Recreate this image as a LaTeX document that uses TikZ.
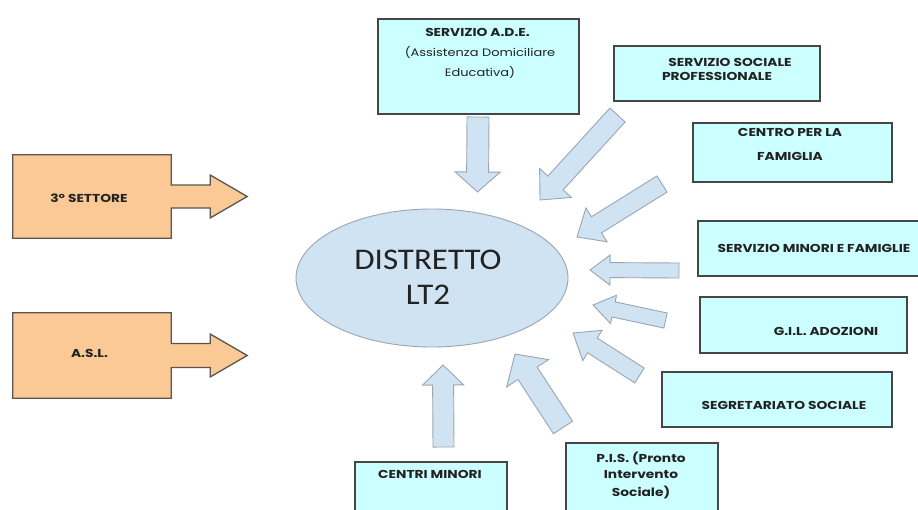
\documentclass[tikz,border=0pt]{standalone}
\usepackage{fontspec}
\usetikzlibrary{shapes.geometric,calc}
\newfontfamily\boxfont{Poppins}[FakeStretch=1.2]
\newfontfamily\bigfont{Carlito}[FakeStretch=1.1]
\definecolor{cyanfill}{RGB}{204,255,255}
\definecolor{boxborder}{RGB}{70,70,70}
\definecolor{orangefill}{RGB}{251,201,150}
\definecolor{oborder}{RGB}{90,85,80}
\definecolor{arrowfill}{RGB}{207,227,242}
\definecolor{arrowborder}{RGB}{155,165,178}
\definecolor{textcol}{RGB}{34,34,34}
\tikzset{
  cbox/.style={draw=boxborder, line width=1.3pt, fill=cyanfill, inner sep=0pt},
  oshape/.style={inner sep=0pt},
  obox/.style={draw=oborder, line width=1.3pt, fill=orangefill, line join=miter},
  barrow/.style={draw=arrowborder, line width=0.9pt, fill=arrowfill, line join=miter},
  btext/.style={font=\boxfont\bfseries\fontsize{11.5}{14}\selectfont, inner sep=0pt, align=center, text=textcol},
  rtext/.style={font=\boxfont\fontsize{10.8}{13}\selectfont, inner sep=0pt, align=center, text=textcol},
}
\newcommand\blockarrow[5]{%
  \path let \p1=(#1), \p2=(#2) in \pgfextra{%
    \pgfmathsetmacro\barang{atan2((\y2)-(\y1),(\x2)-(\x1))}%
    \pgfmathsetmacro\barlen{veclen((\x2)-(\x1),(\y2)-(\y1))}%
    \global\let\barang\barang \global\let\barlen\barlen};
  \draw[barrow, shift={(#1)}, rotate=\barang]
    (0,-#3) -- (\barlen-#5,-#3) -- (\barlen-#5,-#4) -- (\barlen,0)
    -- (\barlen-#5,#4) -- (\barlen-#5,#3) -- (0,#3) -- cycle;
}
\begin{document}
\begin{tikzpicture}[x=1pt,y=1pt]
\useasboundingbox[fill=white] (0,0) rectangle (918,-509);

% orange callouts
\node[oshape, minimum width=158pt, minimum height=83pt] (set) at (92,-196.5) {};
\filldraw[obox] (set.north west) -- (set.north east) -- ([yshift=11.5pt]set.east)
  -- ++(39,0) -- ++(0,10) -- ([xshift=76pt]set.east) -- ([xshift=39pt,yshift=-21.5pt]set.east)
  -- ++(0,10) -- ([yshift=-11.5pt]set.east) -- (set.south east) -- (set.south west) -- cycle;
\node[btext] (settxt) at (89,-198) {3° SETTORE};

\node[oshape, minimum width=158pt, minimum height=85pt] (asl) at (92,-355.5) {};
\filldraw[obox] (asl.north west) -- (asl.north east) -- ([yshift=12pt]asl.east)
  -- ++(39,0) -- ++(0,9.5) -- ([xshift=76pt]asl.east) -- ([xshift=39pt,yshift=-21.5pt]asl.east)
  -- ++(0,9.5) -- ([yshift=-12pt]asl.east) -- (asl.south east) -- (asl.south west) -- cycle;
\node[btext] (asltxt) at (89.5,-353) {A.S.L.};

% central ellipse
\node[ellipse, draw=arrowborder, line width=0.9pt, fill=arrowfill, minimum width=272pt, minimum height=138pt] (dist) at (432,-278) {};
\node[font=\bigfont\fontsize{30}{35}\selectfont, align=center, text=textcol, inner sep=0pt] (disttxt) at (428,-277) {DISTRETTO\\LT2};

% cyan boxes
\node[cbox, minimum width=201pt, minimum height=95pt] (ade) at (478.5,-66.5) {};
\node[btext] (adet1) at (477.5,-32.5) {SERVIZIO A.D.E.};
\node[rtext] (adet2) at (480,-52.5) {(Assistenza Domiciliare};
\node[rtext] (adet3) at (480,-72) {Educativa)};

\node[cbox, minimum width=206pt, minimum height=55pt] (ssp) at (717,-73.5) {};
\node[btext] (sspt1) at (730,-62) {SERVIZIO SOCIALE};
\node[btext] (sspt2) at (717,-76) {PROFESSIONALE};

\node[cbox, minimum width=199pt, minimum height=59pt] (cpf) at (792.5,-152.5) {};
\node[btext] (cpft1) at (790,-132) {CENTRO PER LA};
\node[btext] (cpft2) at (790,-156) {FAMIGLIA};

\node[cbox, minimum width=227pt, minimum height=55pt] (smf) at (811.5,-248.5) {};
\node[btext] (smftxt) at (814,-248) {SERVIZIO MINORI E FAMIGLIE};

\node[cbox, minimum width=207pt, minimum height=56pt] (gil) at (803.5,-325) {};
\node[btext] (giltxt) at (826,-331) {G.I.L. ADOZIONI};

\node[cbox, minimum width=230pt, minimum height=55pt] (seg) at (777,-399.5) {};
\node[btext] (segtxt) at (784,-405) {SEGRETARIATO SOCIALE};

\node[cbox, minimum width=152pt, minimum height=87pt] (pis) at (642,-486.5) {};
\node[btext] (pist1) at (641,-458) {P.I.S. (Pronto};
\node[btext] (pist2) at (641,-475) {Intervento};
\node[btext] (pist3) at (641,-492) {Sociale)};

\node[cbox, minimum width=152pt, minimum height=78pt] (cmin) at (431,-501) {};
\node[btext] (cmintxt) at (430,-474) {CENTRI MINORI};

% block arrows
\coordinate (a1s) at (478,-117);   \coordinate (a1e) at (477.5,-192);
\coordinate (a2s) at (617.5,-115); \coordinate (a2e) at (540,-200);
\coordinate (a3s) at (662,-184);   \coordinate (a3e) at (577,-237);
\coordinate (a4s) at (679,-270.5); \coordinate (a4e) at (590,-270);
\coordinate (a5s) at (665.5,-320.5); \coordinate (a5e) at (593,-305);
\coordinate (a6s) at (639.5,-375.5); \coordinate (a6e) at (573,-333);
\coordinate (a7s) at (563,-427.5); \coordinate (a7e) at (515,-354);
\coordinate (a8s) at (443.5,-447); \coordinate (a8e) at (443,-365);
\blockarrow{a1s}{a1e}{11}{22.5}{20}
\blockarrow{a2s}{a2e}{10.3}{21.5}{23}
\blockarrow{a3s}{a3e}{9.5}{20}{23}
\blockarrow{a4s}{a4e}{7.5}{15}{20}
\blockarrow{a5s}{a5e}{7.7}{14.5}{21}
\blockarrow{a6s}{a6e}{8.8}{18}{23}
\blockarrow{a7s}{a7e}{11.4}{25}{23}
\blockarrow{a8s}{a8e}{10.5}{20.5}{20}
\end{tikzpicture}
\end{document}
